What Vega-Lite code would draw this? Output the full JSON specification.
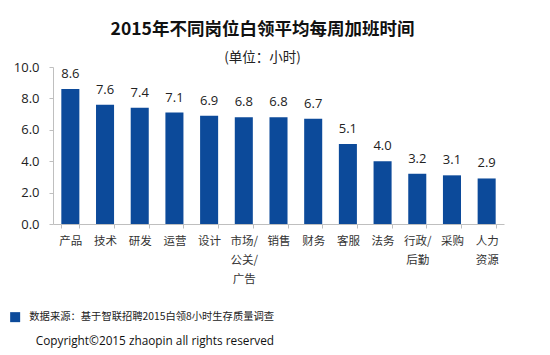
{
  "$schema": "https://vega.github.io/schema/vega-lite/v6.json",
  "autosize": "none",
  "width": 451,
  "height": 157,
  "padding": {"left": 53, "top": 67, "right": 46, "bottom": 131},
  "background": "white",
  "config": {"view": {"stroke": null}, "font": "Noto Sans CJK SC"},
  "title": {
    "text": "2015年不同岗位白领平均每周加班时间",
    "subtitle": "(单位：小时)",
    "font": "Noto Sans CJK SC",
    "fontSize": 17.5,
    "fontWeight": "bold",
    "color": "#111111",
    "subtitleFont": "Noto Sans CJK SC",
    "subtitleFontSize": 13.5,
    "subtitleColor": "#222222",
    "subtitlePadding": 12,
    "anchor": "middle",
    "dx": -16,
    "offset": -3
  },
  "data": {
    "values": [
      {"job": "产品", "hours": 8.6},
      {"job": "技术", "hours": 7.6},
      {"job": "研发", "hours": 7.4},
      {"job": "运营", "hours": 7.1},
      {"job": "设计", "hours": 6.9},
      {"job": "市场/|公关/|广告", "hours": 6.8},
      {"job": "销售", "hours": 6.8},
      {"job": "财务", "hours": 6.7},
      {"job": "客服", "hours": 5.1},
      {"job": "法务", "hours": 4.0},
      {"job": "行政/|后勤", "hours": 3.2},
      {"job": "采购", "hours": 3.1},
      {"job": "人力|资源", "hours": 2.9}
    ]
  },
  "encoding": {
    "x": {
      "field": "job",
      "type": "nominal",
      "sort": null,
      "scale": {"paddingInner": 0.48, "paddingOuter": 0.24},
      "axis": {
        "title": null,
        "labelAngle": 0,
        "labelExpr": "split(datum.label, '|')",
        "labelFont": "Noto Sans CJK SC",
        "labelFontSize": 11.5,
        "labelColor": "#333333",
        "labelLineHeight": 19,
        "labelPadding": 7,
        "labelBaseline": "top",
        "tickBand": "extent",
        "tickSize": 4,
        "tickColor": "#BFBFBF",
        "domainColor": "#BFBFBF"
      }
    },
    "y": {
      "field": "hours",
      "type": "quantitative",
      "scale": {"domain": [0, 10]},
      "axis": {
        "title": null,
        "values": [0, 2, 4, 6, 8, 10],
        "format": ".1f",
        "grid": false,
        "labelFont": "Open Sans",
        "labelFontSize": 13,
        "labelColor": "#222222",
        "labelPadding": 10,
        "tickSize": 4,
        "tickColor": "#BFBFBF",
        "domainColor": "#BFBFBF"
      }
    }
  },
  "layer": [
    {
      "mark": {"type": "bar"},
      "encoding": {
        "color": {
          "datum": "数据来源：基于智联招聘2015白领8小时生存质量调查",
          "type": "nominal",
          "scale": {"range": ["#0C4A9A"]},
          "legend": {
            "orient": "none",
            "legendX": -43,
            "legendY": 245,
            "title": "Copyright©2015 zhaopin all rights reserved",
            "titleOrient": "bottom",
            "titleAnchor": "end",
            "titleFont": "Open Sans",
            "titleFontSize": 11.8,
            "titleFontWeight": "normal",
            "titleColor": "#111111",
            "titlePadding": 14,
            "titleLimit": 400,
            "labelFont": "Noto Sans CJK SC",
            "labelFontSize": 10.3,
            "labelColor": "#222222",
            "labelLimit": 400,
            "labelOffset": 9,
            "symbolType": "square",
            "symbolSize": 100,
            "symbolStrokeWidth": 0
          }
        }
      }
    },
    {
      "mark": {"type": "text", "dy": -15, "font": "Open Sans", "fontSize": 13, "color": "#222222"},
      "encoding": {
        "text": {"field": "hours", "type": "quantitative", "format": ".1f"}
      }
    }
  ]
}
